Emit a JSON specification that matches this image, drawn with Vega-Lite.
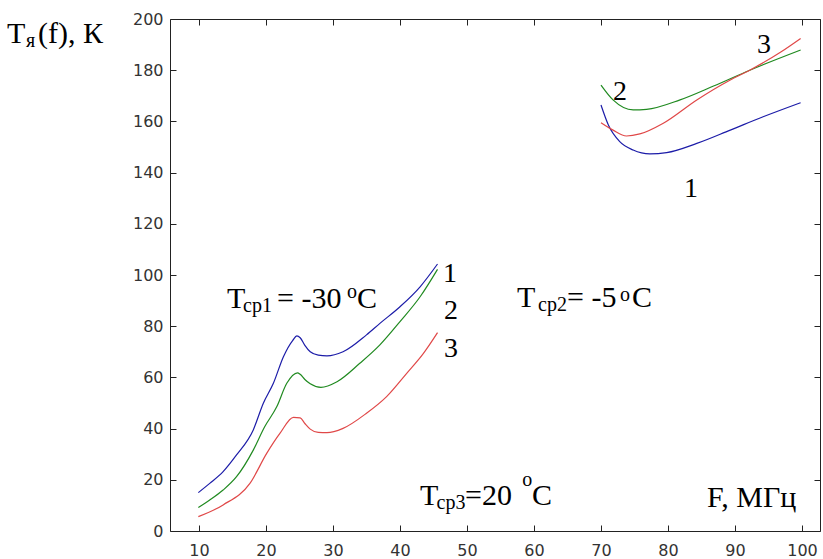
{
  "$schema": "https://vega.github.io/schema/vega-lite/v6.json",
  "autosize": {"type": "none"},
  "width": 650,
  "height": 512,
  "padding": {"left": 170, "top": 19, "right": 3, "bottom": 28},
  "background": "white",
  "config": {"view": {"stroke": "#222", "strokeWidth": 1}},
  "datasets": {
    "curves": [
      {"f": 9.9, "T": 15.0, "curve": "1", "group": "L"},
      {"f": 11.6, "T": 18.6, "curve": "1", "group": "L"},
      {"f": 13.6, "T": 23.2, "curve": "1", "group": "L"},
      {"f": 15.6, "T": 29.7, "curve": "1", "group": "L"},
      {"f": 18.1, "T": 39.5, "curve": "1", "group": "L"},
      {"f": 19.6, "T": 49.9, "curve": "1", "group": "L"},
      {"f": 21.1, "T": 57.7, "curve": "1", "group": "L"},
      {"f": 22.6, "T": 68.1, "curve": "1", "group": "L"},
      {"f": 24.0, "T": 74.5, "curve": "1", "group": "L"},
      {"f": 24.6, "T": 76.2, "curve": "1", "group": "L"},
      {"f": 25.1, "T": 75.5, "curve": "1", "group": "L"},
      {"f": 25.8, "T": 72.5, "curve": "1", "group": "L"},
      {"f": 26.6, "T": 70.0, "curve": "1", "group": "L"},
      {"f": 27.8, "T": 68.7, "curve": "1", "group": "L"},
      {"f": 29.1, "T": 68.4, "curve": "1", "group": "L"},
      {"f": 31.5, "T": 70.0, "curve": "1", "group": "L"},
      {"f": 35.0, "T": 76.6, "curve": "1", "group": "L"},
      {"f": 37.0, "T": 81.1, "curve": "1", "group": "L"},
      {"f": 40.0, "T": 87.6, "curve": "1", "group": "L"},
      {"f": 43.0, "T": 95.4, "curve": "1", "group": "L"},
      {"f": 45.6, "T": 104.3, "curve": "1", "group": "L"},
      {"f": 9.9, "T": 9.2, "curve": "2", "group": "L"},
      {"f": 11.6, "T": 12.1, "curve": "2", "group": "L"},
      {"f": 13.6, "T": 16.0, "curve": "2", "group": "L"},
      {"f": 15.6, "T": 21.2, "curve": "2", "group": "L"},
      {"f": 18.1, "T": 31.6, "curve": "2", "group": "L"},
      {"f": 19.8, "T": 40.7, "curve": "2", "group": "L"},
      {"f": 21.6, "T": 48.5, "curve": "2", "group": "L"},
      {"f": 23.1, "T": 57.7, "curve": "2", "group": "L"},
      {"f": 24.7, "T": 61.8, "curve": "2", "group": "L"},
      {"f": 25.1, "T": 61.2, "curve": "2", "group": "L"},
      {"f": 25.8, "T": 59.2, "curve": "2", "group": "L"},
      {"f": 26.6, "T": 57.5, "curve": "2", "group": "L"},
      {"f": 28.2, "T": 56.1, "curve": "2", "group": "L"},
      {"f": 30.6, "T": 58.3, "curve": "2", "group": "L"},
      {"f": 34.0, "T": 65.5, "curve": "2", "group": "L"},
      {"f": 37.0, "T": 72.7, "curve": "2", "group": "L"},
      {"f": 40.0, "T": 81.8, "curve": "2", "group": "L"},
      {"f": 43.0, "T": 91.5, "curve": "2", "group": "L"},
      {"f": 45.6, "T": 102.2, "curve": "2", "group": "L"},
      {"f": 9.9, "T": 5.6, "curve": "3", "group": "L"},
      {"f": 13.6, "T": 10.2, "curve": "3", "group": "L"},
      {"f": 17.6, "T": 18.6, "curve": "3", "group": "L"},
      {"f": 20.1, "T": 30.3, "curve": "3", "group": "L"},
      {"f": 22.1, "T": 38.2, "curve": "3", "group": "L"},
      {"f": 24.1, "T": 44.4, "curve": "3", "group": "L"},
      {"f": 25.1, "T": 44.2, "curve": "3", "group": "L"},
      {"f": 25.8, "T": 42.0, "curve": "3", "group": "L"},
      {"f": 26.6, "T": 39.8, "curve": "3", "group": "L"},
      {"f": 27.8, "T": 38.5, "curve": "3", "group": "L"},
      {"f": 29.1, "T": 38.4, "curve": "3", "group": "L"},
      {"f": 31.5, "T": 40.1, "curve": "3", "group": "L"},
      {"f": 35.0, "T": 46.0, "curve": "3", "group": "L"},
      {"f": 38.0, "T": 52.5, "curve": "3", "group": "L"},
      {"f": 41.0, "T": 61.6, "curve": "3", "group": "L"},
      {"f": 43.5, "T": 69.4, "curve": "3", "group": "L"},
      {"f": 45.6, "T": 77.5, "curve": "3", "group": "L"},
      {"f": 70.0, "T": 166.4, "curve": "1", "group": "R"},
      {"f": 71.1, "T": 158.6, "curve": "1", "group": "R"},
      {"f": 72.8, "T": 152.1, "curve": "1", "group": "R"},
      {"f": 74.8, "T": 148.8, "curve": "1", "group": "R"},
      {"f": 77.3, "T": 147.3, "curve": "1", "group": "R"},
      {"f": 79.8, "T": 147.8, "curve": "1", "group": "R"},
      {"f": 84.3, "T": 151.4, "curve": "1", "group": "R"},
      {"f": 89.3, "T": 156.6, "curve": "1", "group": "R"},
      {"f": 94.2, "T": 161.8, "curve": "1", "group": "R"},
      {"f": 99.8, "T": 167.3, "curve": "1", "group": "R"},
      {"f": 70.0, "T": 174.2, "curve": "2", "group": "R"},
      {"f": 71.8, "T": 168.4, "curve": "2", "group": "R"},
      {"f": 74.8, "T": 164.5, "curve": "2", "group": "R"},
      {"f": 76.8, "T": 164.7, "curve": "2", "group": "R"},
      {"f": 81.8, "T": 168.4, "curve": "2", "group": "R"},
      {"f": 86.8, "T": 173.8, "curve": "2", "group": "R"},
      {"f": 92.2, "T": 180.0, "curve": "2", "group": "R"},
      {"f": 99.8, "T": 187.9, "curve": "2", "group": "R"},
      {"f": 70.0, "T": 159.5, "curve": "3", "group": "R"},
      {"f": 71.8, "T": 156.6, "curve": "3", "group": "R"},
      {"f": 73.8, "T": 154.3, "curve": "3", "group": "R"},
      {"f": 75.8, "T": 155.1, "curve": "3", "group": "R"},
      {"f": 79.3, "T": 159.3, "curve": "3", "group": "R"},
      {"f": 84.3, "T": 168.4, "curve": "3", "group": "R"},
      {"f": 89.3, "T": 176.2, "curve": "3", "group": "R"},
      {"f": 92.2, "T": 180.0, "curve": "3", "group": "R"},
      {"f": 96.9, "T": 187.2, "curve": "3", "group": "R"},
      {"f": 99.8, "T": 192.4, "curve": "3", "group": "R"}
    ],
    "mainText": [
      {"x": -18.66, "y": 190.6, "text": "T"},
      {"x": -14.03, "y": 190.6, "text": "(f), К"},
      {"x": 14.18, "y": 87.1, "text": "T"},
      {"x": 21.64, "y": 87.1, "text": "= -30"},
      {"x": 33.58, "y": 87.1, "text": "C"},
      {"x": 57.46, "y": 87.5, "text": "T"},
      {"x": 64.93, "y": 87.5, "text": "= -5"},
      {"x": 74.63, "y": 87.5, "text": "C"},
      {"x": 42.99, "y": 10.16, "text": "T"},
      {"x": 49.7, "y": 10.16, "text": "=20"},
      {"x": 59.7, "y": 10.16, "text": "C"},
      {"x": 85.82, "y": 9.4, "text": "F, МГц"}
    ],
    "subText": [
      {"x": -15.82, "y": 189.06, "text": "я"},
      {"x": 16.57, "y": 85.5, "text": "ср1"},
      {"x": 60.6, "y": 85.9, "text": "ср2"},
      {"x": 45.45, "y": 8.6, "text": "ср3"}
    ],
    "supText": [
      {"x": 32.09, "y": 91.0, "text": "o"},
      {"x": 72.84, "y": 89.8, "text": "o"},
      {"x": 58.25, "y": 17.6, "text": "o"}
    ],
    "numText": [
      {"x": 46.4, "y": 97.3, "text": "1"},
      {"x": 46.57, "y": 82.8, "text": "2"},
      {"x": 46.57, "y": 68.1, "text": "3"},
      {"x": 71.8, "y": 168.4, "text": "2"},
      {"x": 93.28, "y": 186.7, "text": "3"},
      {"x": 82.4, "y": 130.5, "text": "1"}
    ]
  },
  "layer": [
    {
      "data": {"name": "curves"},
      "mark": {"type": "line", "strokeWidth": 1.2, "interpolate": "monotone"},
      "encoding": {
        "x": {
          "field": "f", "type": "quantitative",
          "scale": {"domain": [5.67, 102.69], "nice": false, "zero": false},
          "axis": {
            "orient": "bottom", "title": null, "grid": false, "domain": false,
            "values": [10, 20, 30, 40, 50, 60, 70, 80, 90, 100],
            "offset": -6, "tickSize": 6, "tickColor": "#222", "tickWidth": 1,
            "labelPadding": 11, "labelFont": "DejaVu Sans", "labelFontSize": 16,
            "labelColor": "#333", "labelFlush": false
          }
        },
        "y": {
          "field": "T", "type": "quantitative",
          "scale": {"domain": [0, 200], "nice": false},
          "axis": {
            "orient": "left", "title": null, "grid": false, "domain": false,
            "values": [0, 20, 40, 60, 80, 100, 120, 140, 160, 180, 200],
            "offset": -6, "tickSize": 6, "tickColor": "#222", "tickWidth": 1,
            "labelPadding": 7, "labelFont": "DejaVu Sans", "labelFontSize": 16,
            "labelColor": "#333", "labelFlush": false
          }
        },
        "color": {
          "field": "curve", "type": "nominal",
          "scale": {"domain": ["1", "2", "3"], "range": ["#1c1ca8", "#208a20", "#e04848"]},
          "legend": null
        },
        "detail": {"field": "group"}
      }
    },
    {
      "data": {"name": "curves"},
      "mark": {"type": "line", "strokeOpacity": 0},
      "encoding": {
        "x": {
          "field": "f", "type": "quantitative",
          "axis": {
            "orient": "top", "title": null, "grid": false, "labels": false, "domain": false,
            "values": [10, 20, 30, 40, 50, 60, 70, 80, 90, 100],
            "offset": -6, "tickSize": 6, "tickColor": "#222", "tickWidth": 1
          }
        },
        "y": {
          "field": "T", "type": "quantitative",
          "axis": {
            "orient": "right", "title": null, "grid": false, "labels": false, "domain": false,
            "values": [0, 20, 40, 60, 80, 100, 120, 140, 160, 180, 200],
            "offset": -6, "tickSize": 6, "tickColor": "#222", "tickWidth": 1
          }
        },
        "detail": {"field": "group"}
      }
    },
    {
      "data": {"name": "mainText"},
      "mark": {"type": "text", "font": "Liberation Serif, Times New Roman, DejaVu Serif, serif", "fontSize": 30, "align": "left", "baseline": "alphabetic", "color": "black"},
      "encoding": {
        "x": {"field": "x", "type": "quantitative", "axis": null},
        "y": {"field": "y", "type": "quantitative", "axis": null},
        "text": {"field": "text"}
      }
    },
    {
      "data": {"name": "subText"},
      "mark": {"type": "text", "font": "Liberation Serif, Times New Roman, DejaVu Serif, serif", "fontSize": 20, "align": "left", "baseline": "alphabetic", "color": "black"},
      "encoding": {
        "x": {"field": "x", "type": "quantitative", "axis": null},
        "y": {"field": "y", "type": "quantitative", "axis": null},
        "text": {"field": "text"}
      }
    },
    {
      "data": {"name": "supText"},
      "mark": {"type": "text", "font": "Liberation Serif, Times New Roman, DejaVu Serif, serif", "fontSize": 20, "align": "left", "baseline": "alphabetic", "color": "black"},
      "encoding": {
        "x": {"field": "x", "type": "quantitative", "axis": null},
        "y": {"field": "y", "type": "quantitative", "axis": null},
        "text": {"field": "text"}
      }
    },
    {
      "data": {"name": "numText"},
      "mark": {"type": "text", "font": "Liberation Serif, Times New Roman, DejaVu Serif, serif", "fontSize": 28, "align": "left", "baseline": "alphabetic", "color": "black"},
      "encoding": {
        "x": {"field": "x", "type": "quantitative", "axis": null},
        "y": {"field": "y", "type": "quantitative", "axis": null},
        "text": {"field": "text"}
      }
    }
  ],
  "resolve": {"axis": {"x": "independent", "y": "independent"}}
}
